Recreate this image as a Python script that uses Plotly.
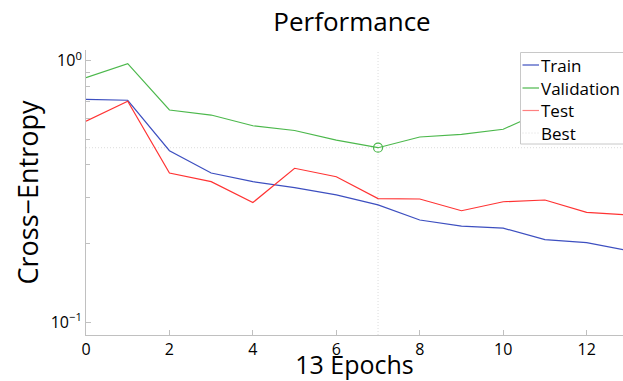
import plotly.graph_objects as go

# Per-epoch cross-entropy for each data split
epochs = list(range(14))
train = [0.712, 0.706, 0.453, 0.372, 0.345, 0.327, 0.307, 0.281, 0.246, 0.233, 0.229, 0.207, 0.2015, 0.188]
validation = [0.861, 0.974, 0.648, 0.620, 0.564, 0.541, 0.497, 0.465, 0.511, 0.523, 0.547, 0.645, 0.680, 0.700]
test = [0.587, 0.700, 0.372, 0.345, 0.287, 0.388, 0.360, 0.297, 0.296, 0.267, 0.289, 0.2935, 0.263, 0.257]
best_epoch = 7

x_ticks = [0, 2, 4, 6, 8, 10, 12]
y_ticks = [0.1, 1]
y_tick_labels = ["10<sup>\u22121</sup>", "10<sup>0</sup>"]
y_minor = [0.2, 0.3, 0.4, 0.5, 0.6, 0.7, 0.8, 0.9]

legend_names = ["Train", "Validation", "Test", "Best"]

BLUE = "#3d4fc0"
GREEN = "#4cb84c"
RED = "#ff3333"
GRID = "#dcdcdc"
AXIS = "#c0c0c0"
FONT = "Open Sans"

W, H = 623, 381
L, R, T, B = 86, 0, 50, 46
pw, ph = W - L - R, H - T - B


def px_x(p):
    return (p - L) / pw


def px_y(p):
    return (H - B - p) / ph


fig = go.Figure()
for ys, color, name in [(train, BLUE, "Train"), (validation, GREEN, "Validation"), (test, RED, "Test")]:
    fig.add_trace(go.Scatter(x=epochs, y=ys, mode="lines", name=name,
                             line=dict(color=color, width=1.2), showlegend=False))

best_val = validation[best_epoch]
# Dotted guides through the best validation epoch
fig.add_shape(type="line", xref="x", yref="paper", x0=best_epoch, x1=best_epoch, y0=0, y1=1,
              line=dict(color=GRID, width=1, dash="1px,2px"), layer="below")
fig.add_shape(type="line", xref="paper", yref="y", x0=0, x1=1, y0=best_val, y1=best_val,
              line=dict(color=GRID, width=1, dash="1px,2px"), layer="below")
fig.add_trace(go.Scatter(x=[best_epoch], y=[best_val], mode="markers", showlegend=False,
                         marker=dict(symbol="circle-open", size=9, color=GREEN, line=dict(width=1.2))))

# Legend box drawn in pixel space
fig.add_shape(type="rect", xref="paper", yref="paper",
              x0=px_x(520.5), x1=px_x(626), y0=px_y(144), y1=px_y(52.5),
              line=dict(color="#c8c8c8", width=1), fillcolor="white", layer="above")
rows = [65, 88, 110.5, 133]
styles = [(BLUE, "solid"), (GREEN, "solid"), ("#ff8080", "solid"), (GRID, "1px,2px")]
for name, yy, (col, dash) in zip(legend_names, rows, styles):
    fig.add_shape(type="line", xref="paper", yref="paper",
                  x0=px_x(522.5), x1=px_x(539), y0=px_y(yy), y1=px_y(yy),
                  line=dict(color=col, width=1.2 if dash == "solid" else 1, dash=dash), layer="above")
    fig.add_annotation(text=name, xref="paper", yref="paper", x=px_x(538.5), y=px_y(yy),
                       xanchor="left", yanchor="middle", showarrow=False,
                       font=dict(family=FONT, size=17, color="black"))

fig.update_layout(
    width=W, height=H,
    margin=dict(l=L, r=R, t=T, b=B),
    paper_bgcolor="white", plot_bgcolor="white",
    font=dict(family=FONT, color="black"),
    title=dict(text="Performance", x=352 / W, xanchor="center", y=1 - 22 / H, yanchor="middle",
               font=dict(family=FONT, size=26, color="black")),
)
fig.update_xaxes(
    range=[0, (W - L) / 41.72], tickvals=x_ticks, ticks="inside", ticklen=5, tickcolor=AXIS,
    showline=True, linecolor=AXIS, linewidth=1, showgrid=False, zeroline=False,
    tickfont=dict(family=FONT, size=16),
    title=dict(text="13 Epochs", font=dict(family=FONT, size=25), standoff=3),
)
fig.update_yaxes(
    type="log", range=[-1.0486, 0.041], tickvals=y_ticks, ticktext=y_tick_labels,
    ticks="inside", ticklen=5, tickcolor=AXIS,
    minor=dict(tickvals=y_minor, ticks="inside", ticklen=4, tickcolor=AXIS, showgrid=False),
    showline=True, linecolor=AXIS, linewidth=1, showgrid=False, zeroline=False,
    tickfont=dict(family=FONT, size=16),
    title=dict(text="Cross\u2212Entropy", font=dict(family=FONT, size=27), standoff=4),
)

fig.write_html("out.html")
